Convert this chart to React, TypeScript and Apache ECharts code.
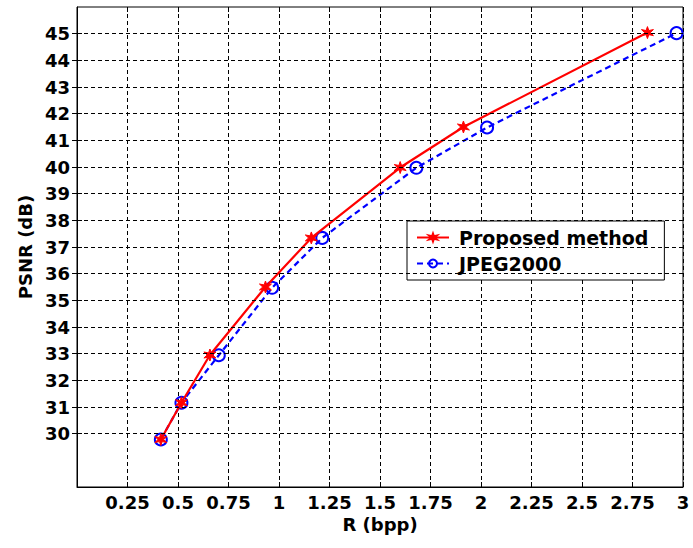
import React, { useEffect, useRef } from "react";
import * as echarts from "echarts";

// Rate (bpp) and PSNR (dB)
const proposedRate = [0.415, 0.517, 0.658, 0.933, 1.16, 1.6, 1.913, 2.824];
const proposedPsnr = [29.78, 31.16, 32.95, 35.5, 37.34, 39.98, 41.5, 45.04];
const jpegRate = [0.415, 0.517, 0.702, 0.966, 1.214, 1.68, 2.03, 2.968];
const jpegPsnr = [29.78, 31.16, 32.94, 35.47, 37.34, 39.97, 41.48, 45.02];

const xTicks = [0.25, 0.5, 0.75, 1, 1.25, 1.5, 1.75, 2, 2.25, 2.5, 2.75, 3];
const yTicks = [30, 31, 32, 33, 34, 35, 36, 37, 38, 39, 40, 41, 42, 43, 44, 45];

const seriesNames = ["Proposed method", "JPEG2000"];

const STAR =
  "path://M10 0 L12 6.54 L18.66 5 L14 10 L18.66 15 L12 13.46 L10 20 L8 13.46 L1.34 15 L6 10 L1.34 5 L8 6.54 Z";

const FONT = "DejaVu Sans";

export default function App() {
  const ref = useRef<HTMLDivElement>(null);

  useEffect(() => {
    if (!ref.current) return;
    const chart = echarts.init(ref.current, null, { renderer: "svg" });
    const dash = [4, 3];
    const labelStyle = {
      fontFamily: FONT,
      fontWeight: "bold" as const,
      fontSize: 18,
      color: "#000",
    };
    chart.setOption({
      animation: false,
      backgroundColor: "#fff",
      grid: {
        left: 77,
        top: 7,
        right: 10,
        bottom: 61,
        show: true,
        borderColor: "#000",
        borderWidth: 1,
        backgroundColor: "transparent",
      },
      legend: {
        data: seriesNames,
        orient: "vertical",
        left: 407,
        top: 221,
        itemWidth: 32,
        itemHeight: 10,
        itemGap: 7,
        padding: [7, 16, 7, 9],
        borderColor: "#000",
        borderWidth: 1,
        backgroundColor: "#fff",
        textStyle: { ...labelStyle, fontSize: 19, lineHeight: 19, padding: [0, 0, 0, 5] },
      },
      xAxis: [
        {
          type: "value",
          min: 0,
          max: 3,
          interval: 0.25,
          name: "R (bpp)",
          nameLocation: "middle",
          nameGap: 25,
          nameTextStyle: labelStyle,
          axisLine: { show: true, lineStyle: { color: "#000", width: 1 } },
          axisTick: { show: true, inside: true, length: 5, lineStyle: { color: "#000" } },
          axisLabel: {
            ...labelStyle,
            margin: 6,
            customValues: xTicks,
            formatter: (v: number) => (v === 0 ? "" : String(v)),
          },
          splitLine: { show: true, lineStyle: { type: dash, color: "#000", width: 1 } },
        },
        {
          type: "value",
          position: "top",
          min: 0,
          max: 3,
          interval: 0.25,
          axisLine: { show: false },
          axisTick: { show: true, inside: true, length: 5, lineStyle: { color: "#000" } },
          axisLabel: { show: false },
          splitLine: { show: false },
        },
      ],
      yAxis: [
        {
          type: "value",
          min: 28,
          max: 46,
          interval: 1,
          name: "PSNR (dB)",
          nameLocation: "middle",
          nameGap: 42,
          nameTextStyle: labelStyle,
          axisLine: { show: true, lineStyle: { color: "#000", width: 1 } },
          axisTick: {
            show: true,
            inside: true,
            length: 5,
            customValues: yTicks,
            lineStyle: { color: "#000" },
          },
          axisLabel: {
            ...labelStyle,
            margin: 7,
            customValues: yTicks,
            formatter: (v: number) => (v < 30 || v > 45 ? "" : String(v)),
          },
          splitLine: { show: false },
        },
        {
          type: "value",
          position: "right",
          min: 28,
          max: 46,
          interval: 1,
          axisLine: { show: false },
          axisTick: {
            show: true,
            inside: true,
            length: 5,
            customValues: yTicks,
            lineStyle: { color: "#000" },
          },
          axisLabel: { show: false },
          splitLine: { show: false },
        },
      ],
      series: [
        {
          name: "grid-y",
          type: "line",
          data: [],
          z: 1,
          silent: true,
          markLine: {
            silent: true,
            symbol: ["none", "none"],
            label: { show: false },
            lineStyle: { type: dash, color: "#000", width: 1 },
            emphasis: { disabled: true },
            data: yTicks.map((v) => ({ yAxis: v })),
          },
        },
        {
          name: seriesNames[0],
          type: "line",
          z: 3,
          data: proposedRate.map((r, i) => [r, proposedPsnr[i]]),
          symbol: STAR,
          symbolSize: 12,
          showAllSymbol: true,
          lineStyle: { color: "#ff0000", width: 2.2, type: "solid" },
          itemStyle: { color: "#ff0000", borderColor: "#ff0000", borderWidth: 1 },
        },
        {
          name: seriesNames[1],
          type: "line",
          z: 2,
          data: jpegRate.map((r, i) => [r, jpegPsnr[i]]),
          symbol: "circle",
          symbolSize: 12,
          showAllSymbol: true,
          lineStyle: { color: "#0000ff", width: 2.2, type: [6, 4] },
          itemStyle: { color: "rgba(0,0,0,0)", borderColor: "#0000ff", borderWidth: 2 },
        },
      ],
    });
    return () => chart.dispose();
  }, []);

  return (
    <div
      ref={ref}
      style={{ position: "absolute", left: 0, top: 0, width: 693, height: 548, background: "#fff" }}
    />
  );
}
